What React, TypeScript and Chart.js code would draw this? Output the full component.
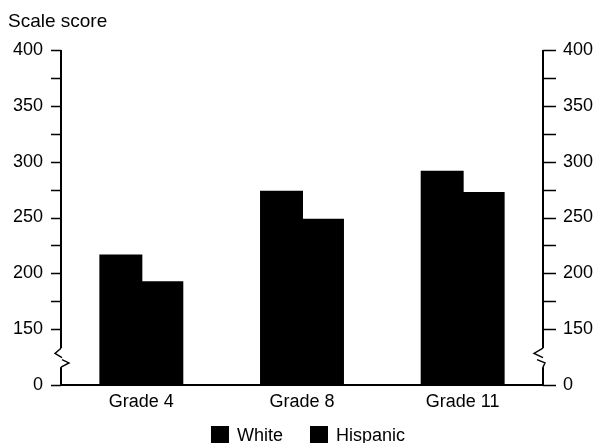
import React, { useEffect, useRef } from "react";
import { Chart, registerables } from "chart.js";

Chart.register(...registerables);

const categories = ["Grade 4", "Grade 8", "Grade 11"];
const whiteScores = [216, 273, 291];
const hispanicScores = [192, 248, 272];
const seriesNames = ["White", "Hispanic"];
const axisBreakValue = 100; // shown as "0" (broken axis)
const yMax = 400;
const majorStep = 50;
const minorTicks = [175, 225, 275, 325, 375];
const axisTitle = "Scale score";

const FONT = "'Liberation Sans', Arial, Helvetica, sans-serif";

const tickCallback = (v: any) => (Number(v) === axisBreakValue ? "0" : String(v));

const decorPlugin = {
  id: "decor",
  afterDraw(chart: any) {
    const ctx = chart.ctx;
    const y = chart.scales.y;
    const ca = chart.chartArea;
    const L = ca.left;
    const R = ca.right;
    ctx.save();
    ctx.strokeStyle = "#000";
    ctx.fillStyle = "#000";
    ctx.lineWidth = 2;
    // axes
    ctx.beginPath();
    ctx.moveTo(L, y.getPixelForValue(yMax));
    ctx.lineTo(L, ca.bottom);
    ctx.lineTo(R, ca.bottom);
    ctx.moveTo(R, y.getPixelForValue(yMax));
    ctx.lineTo(R, ca.bottom);
    ctx.stroke();
    // ticks
    const majors: number[] = [];
    for (let v = axisBreakValue; v <= yMax; v += majorStep) majors.push(v);
    ctx.lineWidth = 1.6;
    ctx.beginPath();
    [...majors, ...minorTicks].forEach((v) => {
      const py = Math.round(y.getPixelForValue(v)) + 0.5;
      ctx.moveTo(L - 10, py);
      ctx.lineTo(L, py);
      ctx.moveTo(R, py);
      ctx.lineTo(R + 13, py);
    });
    ctx.stroke();
    // axis breaks
    const yTop = y.getPixelForValue(133);
    const yBot = y.getPixelForValue(116);
    ctx.fillStyle = "#fff";
    ctx.fillRect(L - 2, yTop, 4, yBot - yTop);
    ctx.fillRect(R - 2, yTop, 4, yBot - yTop);
    const h = yBot - yTop;
    ctx.lineWidth = 1.4;
    ctx.beginPath();
    ctx.moveTo(L, yTop);
    ctx.lineTo(L - 6, yTop + h * 0.28);
    ctx.lineTo(L + 1, yTop + h * 0.5);
    ctx.moveTo(L + 1, yTop + h * 0.6);
    ctx.lineTo(L + 8, yTop + h * 0.78);
    ctx.lineTo(L, yBot);
    ctx.moveTo(R, yTop);
    ctx.lineTo(R - 9, yTop + h * 0.28);
    ctx.lineTo(R, yTop + h * 0.5);
    ctx.moveTo(R - 6, yTop + h * 0.6);
    ctx.lineTo(R + 2, yTop + h * 0.78);
    ctx.lineTo(R, yBot);
    ctx.stroke();
    // title
    ctx.fillStyle = "#000";
    ctx.font = `19px ${FONT}`;
    ctx.textAlign = "left";
    ctx.textBaseline = "middle";
    ctx.fillText(axisTitle, 8, 22);
    // legend
    ctx.font = `18px ${FONT}`;
    const legendY = 435;
    const items = chart.data.datasets.map((d: any) => ({ label: d.label, color: d.backgroundColor }));
    const box = 18;
    const gap = 8;
    const itemGap = 27;
    const widths = items.map((it: any) => box + gap + ctx.measureText(it.label).width);
    const total = widths.reduce((a: number, b: number) => a + b, 0) + itemGap * (items.length - 1);
    let x = (chart.width - total) / 2 + 10;
    items.forEach((it: any, i: number) => {
      ctx.fillStyle = it.color;
      ctx.fillRect(x, legendY - 9, box, 17);
      ctx.fillStyle = "#000";
      ctx.fillText(it.label, x + box + gap, legendY + 1);
      x += widths[i] + itemGap;
    });
    ctx.restore();
  },
};

export default function App() {
  const ref = useRef<HTMLCanvasElement | null>(null);
  useEffect(() => {
    if (!ref.current) return;
    const font = { family: FONT, size: 18 };
    const yCommon = {
      min: axisBreakValue,
      max: yMax,
      grid: { display: false, drawTicks: false },
      border: { display: false },
    };
    const chart = new Chart(ref.current, {
      type: "bar",
      data: {
        labels: categories,
        datasets: [
          {
            label: seriesNames[0],
            data: whiteScores,
            backgroundColor: "#000",
            borderWidth: 0,
            inflateAmount: 1,
            categoryPercentage: 0.51,
            barPercentage: 1,
            yAxisID: "y",
          },
          {
            label: seriesNames[1],
            data: hispanicScores,
            backgroundColor: "#000",
            borderWidth: 0,
            inflateAmount: 1,
            categoryPercentage: 0.51,
            barPercentage: 1,
            yAxisID: "y",
          },
        ],
      },
      options: {
        animation: false,
        responsive: true,
        maintainAspectRatio: false,
        layout: { padding: { top: 50, left: 0, right: 0, bottom: 0 } },
        plugins: { legend: { display: false }, tooltip: { enabled: false } },
        scales: {
          x: {
            grid: { display: false, drawTicks: false },
            border: { display: false },
            ticks: { font, color: "#000", padding: 6, maxRotation: 0 },
            afterFit: (s: any) => {
              s.height = 58;
            },
          },
          y: {
            ...yCommon,
            position: "left",
            ticks: { stepSize: majorStep, callback: tickCallback, font, color: "#000", padding: 18 },
            afterFit: (s: any) => {
              s.width = 61;
            },
          },
          y2: {
            ...yCommon,
            position: "right",
            ticks: { stepSize: majorStep, callback: tickCallback, font, color: "#000", padding: 20 },
            afterFit: (s: any) => {
              s.width = 53;
            },
          },
        },
      } as any,
      plugins: [decorPlugin],
    });
    return () => chart.destroy();
  }, []);
  return (
    <div style={{ position: "fixed", left: 0, top: 0, width: 596, height: 443, background: "#fff" }}>
      <canvas ref={ref} />
    </div>
  );
}
